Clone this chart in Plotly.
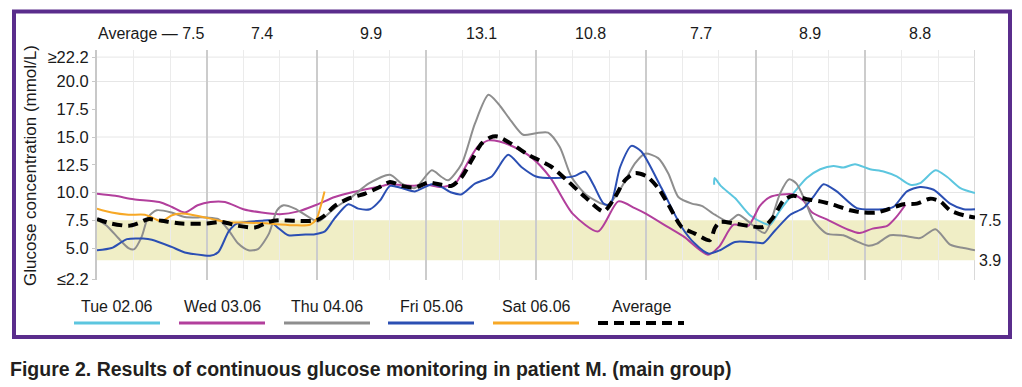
import plotly.graph_objects as go

# ---------------- data ----------------
tue_h = [16.87, 16.88, 17.05, 17.44, 17.85, 18.22, 18.4, 18.67, 19.03, 19.4, 19.77, 20.13, 20.4, 20.72,
         21.13, 21.5, 21.86, 22.23, 22.5, 22.92, 23.24, 23.6, 24.0]
tue_v = [10.7, 11.3, 10.6, 9.5, 7.95, 7.25, 7.1, 8.4, 9.9, 11.3, 12.1, 12.4, 12.25, 12.55,
         12.1, 11.9, 11.45, 10.7, 10.85, 12.0, 11.4, 10.4, 9.95]

wed_h = [0, 0.5, 1.0, 1.7, 2.05, 2.4, 2.75, 3.1, 3.5, 4.0, 4.5, 5.0, 5.5, 6.0, 6.5, 7.0, 7.8, 8.0, 8.6,
         9.0, 9.4, 9.8, 10.0, 10.4, 10.7, 11.0, 11.4, 11.9, 12.4, 13.0, 13.7, 14.25, 14.7, 15.0, 15.6,
         16.05, 16.7, 17.0, 17.4, 17.8, 18.12, 18.4, 19.0, 19.3, 19.55, 20.0, 20.5, 20.85, 21.2, 21.6,
         21.85, 22.1]
wed_v = [9.9, 9.7, 9.4, 9.15, 8.7, 8.2, 8.85, 9.15, 9.15, 8.5, 8.2, 8.05, 8.3, 8.9, 9.6, 10.05, 10.6,
         10.75, 10.6, 10.7, 10.5, 10.85, 11.9, 14.1, 14.7, 14.6, 14.1, 13.1, 11.3, 8.1, 6.5, 9.2, 8.6,
         8.1, 6.9, 6.0, 4.4, 5.1, 7.1, 7.0, 8.8, 9.6, 9.85, 9.3, 8.2, 7.5, 6.7, 6.35, 6.75, 7.0, 7.8, 8.9]

thu_h = [0, 0.3, 0.58, 0.86, 1.02, 1.22, 1.4, 1.63, 2.04, 2.4, 3.0, 3.32, 3.6, 3.86, 4.14, 4.4, 4.7,
         4.92, 5.1, 5.41, 5.78, 6.05, 6.5, 7.0, 7.42, 8.01, 8.33, 8.69, 9.15, 9.42, 9.6, 9.97, 10.33,
         10.7, 10.97, 11.33, 11.65, 12.0, 12.33, 12.65, 12.97, 13.34, 13.79, 13.97, 14.34, 14.7, 14.98,
         15.34, 15.62, 15.89, 16.26, 16.53, 16.89, 17.26, 17.53, 17.8, 18.05, 18.25, 18.4, 18.67, 18.92,
         19.12, 19.35, 19.58, 19.95, 20.4, 20.77, 21.09, 21.32, 21.68, 22.05, 22.5, 22.92, 23.32, 23.69,
         24.0]
thu_v = [7.6, 6.9, 5.9, 5.0, 4.9, 6.0, 7.8, 8.4, 8.2, 7.8, 7.75, 7.6, 6.6, 5.4, 4.8, 4.9, 6.3,
         8.4, 8.85, 8.55, 7.8, 7.4, 8.6, 9.7, 10.8, 11.6, 10.8, 10.4, 12.0, 11.4, 11.1, 12.6, 16.2,
         18.8, 18.0, 16.4, 15.2, 15.35, 15.4, 14.1, 11.4, 9.9, 9.0, 8.9, 10.5, 12.6, 13.5,
         13.1, 11.7, 9.6, 9.0, 8.8, 8.0, 7.4, 8.0, 7.4, 6.7, 6.35, 7.2, 9.9, 11.2,
         10.8, 9.3, 7.5, 6.3, 6.15, 5.6, 5.2, 5.4, 6.15, 6.1, 5.9, 6.7, 5.3, 5.0,
         4.8]

fri_h = [0, 0.4, 0.82, 1.26, 1.5, 2.04, 2.4, 2.9, 3.09, 3.32, 3.6, 3.82, 4.5, 4.7, 4.92, 5.23, 5.6,
         5.96, 6.23, 6.5, 6.87, 7.14, 7.46, 7.74, 8.01, 8.33, 8.69, 9.15, 9.42, 9.69, 9.97, 10.33,
         10.79, 11.24, 11.6, 12.0, 12.52, 13.07, 13.34, 13.57, 13.85, 14.03, 14.3, 14.61, 14.88, 15.43,
         15.98, 16.34, 16.71, 17.03, 17.44, 18.0, 18.22, 18.54, 18.95, 19.31, 19.58, 19.86, 20.22,
         20.77, 21.5, 21.77, 22.14, 22.5, 22.87, 23.32, 23.69, 24.0]
fri_v = [4.8, 5.0, 5.8, 5.85, 5.75, 5.1, 4.6, 4.35, 4.3, 4.65, 6.5, 7.2, 7.45, 7.5, 6.9, 6.15, 6.2,
         6.25, 6.5, 7.7, 8.95, 8.55, 8.5, 9.3, 10.6, 10.4, 10.1, 10.75, 10.5, 10.0, 9.85, 10.8,
         11.45, 13.4, 12.3, 11.45, 11.3, 11.5, 11.9, 10.7, 9.0, 8.9, 12.3, 14.2, 13.7, 10.4,
         6.9, 5.4, 4.5, 4.8, 5.55, 5.5, 5.45, 6.6, 8.0, 8.6, 9.6, 10.75, 10.1,
         8.6, 8.5, 8.7, 10.1, 10.5, 10.25, 9.0, 8.5, 8.5]

sat_h = [0, 0.4, 0.86, 1.31, 1.63, 1.77, 2.05, 2.3, 2.65, 3.1, 3.36, 3.6, 4.0, 4.7, 4.92, 5.41, 5.82,
         6.0, 6.1, 6.22]
sat_v = [8.55, 8.2, 8.0, 8.0, 7.55, 7.4, 7.95, 8.1, 7.95, 7.65, 7.45, 7.3, 7.3, 7.2, 7.15, 7.05, 7.1,
         7.6, 8.6, 10.1]

avg_h = [0, 0.4, 0.86, 1.1, 1.4, 1.77, 2.31, 3.0, 3.4, 3.86, 4.32, 4.7, 4.96, 5.41, 6.0, 6.23, 6.5,
         6.87, 7.33, 7.7, 8.01, 8.33, 8.69, 9.06, 9.42, 9.69, 9.97, 10.24, 10.51, 10.74, 10.95, 11.42,
         11.79, 12.06, 12.43, 12.88, 13.34, 13.85, 14.16, 14.43, 14.71, 15.03, 15.34, 15.62, 15.98,
         16.34, 16.75, 16.89, 17.03, 17.44, 17.8, 18.22, 18.49, 18.77, 19.03, 19.4, 19.77, 20.13,
         20.59, 20.95, 21.32, 21.68, 22.05, 22.41, 22.78, 23.05, 23.32, 23.69, 24.0]
avg_v = [7.6, 7.2, 7.0, 7.2, 7.6, 7.45, 7.2, 7.2, 7.35, 7.0, 6.85, 7.35, 7.5, 7.45, 7.5, 7.95, 8.8,
         9.45, 9.9, 10.45, 10.95, 10.6, 10.45, 10.9, 10.7, 10.6, 11.4, 12.9, 14.4, 14.95, 15.05, 14.2,
         13.4, 12.95, 12.3, 11.0, 9.6, 8.3, 9.6, 11.1, 11.75, 11.45, 10.4, 8.9, 6.9,
         6.3, 5.7, 6.8, 7.35, 7.2, 7.0, 6.9, 7.8, 9.3, 9.7, 9.4, 9.2, 8.9,
         8.4, 8.2, 8.2, 8.55, 8.95, 9.0, 9.45, 9.2, 8.4, 7.95, 7.75]

series_names = ["Tue 02.06", "Wed 03.06", "Thu 04.06", "Fri 05.06", "Sat 06.06", "Average"]
series_colors = ["#5cc6df", "#b23f9c", "#8e8e8e", "#2b4fb3", "#f7a826", "#000000"]

period_mid_h = [1.5, 4.5, 7.5, 10.5, 13.5, 16.5, 19.5, 22.5]
period_avg = ["7.5", "7.4", "9.9", "13.1", "10.8", "7.7", "8.9", "8.8"]

tick_vals = [2.2, 5.0, 7.5, 10.0, 12.5, 15.0, 17.5, 20.0, 22.2]
tick_text = ["≤2.2", "5.0", "7.5", "10.0", "12.5", "15.0", "17.5", "20.0", "≥22.2"]
hgrid_vals = [10.0, 15.0, 20.0, 22.2]
target_low, target_high = 3.9, 7.5

# ---------------- layout (screen pixels; page body has an 8px margin) ----------------
OFF = 8
W, H = 1022 - OFF, 387 - OFF
PX0, PX1, PY0, PY1 = 97, 975, 50, 280          # plot area in screen pixels
L, T = PX0 - OFF, PY0 - OFF
PW, PH = PX1 - PX0, PY1 - PY0
R, B = W - L - PW, H - T - PH


def px(x):
    return (x - PX0) / PW


def py(y):
    return (PY1 - y) / PH


FONT = "Liberation Sans, Arial, sans-serif"
TXT = "#1a1a1a"

fig = go.Figure()
data = [(tue_h, tue_v), (wed_h, wed_v), (thu_h, thu_v), (fri_h, fri_v), (sat_h, sat_v)]
for (hh, vv), name, col in zip(data, series_names[:5], series_colors[:5]):
    fig.add_trace(go.Scatter(x=hh, y=vv, mode="lines", name=name,
                             line=dict(color=col, width=2, shape="spline", smoothing=0.7),
                             showlegend=False, hoverinfo="skip"))
fig.add_trace(go.Scatter(x=avg_h, y=avg_v, mode="lines", name="Average",
                         line=dict(color="#000000", width=4, dash="10px,6px", shape="spline",
                                   smoothing=0.7),
                         showlegend=False, hoverinfo="skip"))

shapes = []
shapes.append(dict(type="rect", xref="x", yref="y", x0=0, x1=24, y0=target_low, y1=target_high,
                   fillcolor="rgb(240,238,198)", line=dict(width=0), layer="below"))
for g in hgrid_vals:
    shapes.append(dict(type="line", xref="x", yref="y", x0=0, x1=24, y0=g, y1=g,
                       line=dict(color="#e6e6e6", width=1), layer="below"))
shapes.append(dict(type="line", xref="x", yref="paper", x0=24, x1=24, y0=0, y1=1,
                   line=dict(color="#cccccc", width=1.5), layer="below"))
# frame
shapes.append(dict(type="rect", xref="paper", yref="paper", x0=px(14), x1=px(1010),
                   y0=py(337), y1=py(11.5), line=dict(color="#5a2d8c", width=4)))

annotations = []
for i, (h, a) in enumerate(zip(period_mid_h, period_avg)):
    txt = "Average — " + a if i == 0 else a
    annotations.append(dict(x=h, xref="x", y=py(34), yref="paper", text=txt, showarrow=False,
                            xanchor="center", yanchor="middle",
                            font=dict(family=FONT, size=16, color=TXT)))
for v in (target_high, target_low):
    annotations.append(dict(x=24, xref="x", y=v, yref="y", text=f"{v:.1f}", showarrow=False,
                            xanchor="left", yanchor="middle", xshift=2,
                            font=dict(family=FONT, size=16, color=TXT)))
annotations.append(dict(x=px(30), xref="paper", y=py(166), yref="paper",
                        text="Glucose concentration (mmol/L)", textangle=-90, showarrow=False,
                        xanchor="center", yanchor="middle",
                        font=dict(family=FONT, size=17, color=TXT)))
leg_centers = [117, 222, 327, 431, 536, 641]
for name, col, cx in zip(series_names, series_colors, leg_centers):
    annotations.append(dict(x=px(cx), xref="paper", y=py(306), yref="paper", text=name,
                            showarrow=False, xanchor="center", yanchor="middle",
                            font=dict(family=FONT, size=16, color=TXT)))
    dash = "10px,6px" if name == "Average" else "solid"
    width = 4 if name == "Average" else 3
    shapes.append(dict(type="line", xref="paper", yref="paper", x0=px(cx - 43), x1=px(cx + 43),
                       y0=py(323), y1=py(323), line=dict(color=col, width=width, dash=dash)))
annotations.append(dict(x=px(8), xref="paper", y=py(369), yref="paper",
                        text="<b>Figure 2. Results of continuous glucose monitoring in patient M. (main group)</b>",
                        showarrow=False, xanchor="left", yanchor="middle",
                        font=dict(family="Liberation Sans, Arial", size=19.5, color="#231f20")))

fig.update_layout(
    width=W, height=H,
    margin=dict(l=L, r=R, t=T, b=B, pad=0),
    paper_bgcolor="white", plot_bgcolor="white",
    shapes=shapes, annotations=annotations,
    showlegend=False,
    xaxis=dict(range=[0, 24], dtick=3, tick0=0, showticklabels=False, ticks="",
               showgrid=True, gridcolor="#cccccc", gridwidth=1.5, zeroline=False,
               minor=dict(dtick=1, tick0=0, showgrid=True, gridcolor="#ebebeb", gridwidth=1),
               fixedrange=True),
    yaxis=dict(range=[2.12, 22.84], tickvals=tick_vals, ticktext=tick_text, showgrid=False,
               zeroline=False, showline=True, linecolor="#c8c8c8", linewidth=2,
               ticks="outside", ticklen=3, tickcolor="#c8c8c8",
               tickfont=dict(family=FONT, size=16.5, color=TXT), fixedrange=True),
)

fig.write_html("out.html")
